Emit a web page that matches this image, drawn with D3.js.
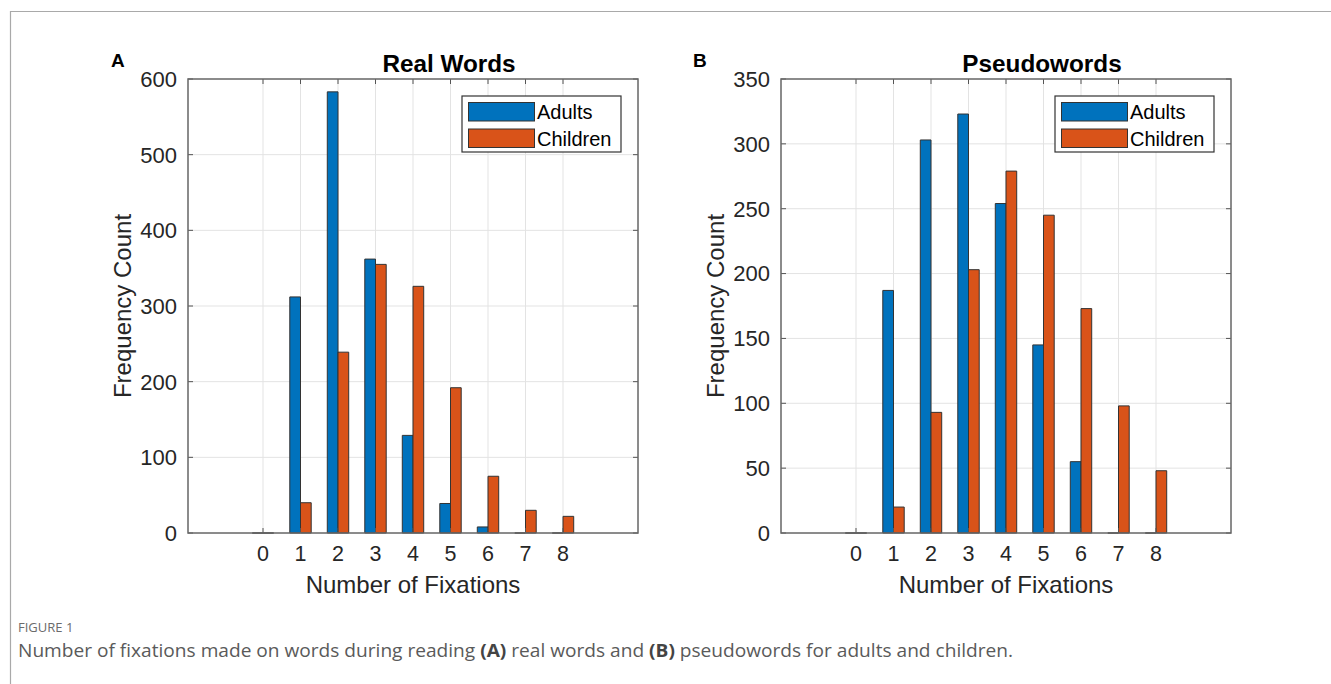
<!DOCTYPE html>
<html>
<head>
<meta charset="utf-8">
<script src="https://cdn.jsdelivr.net/npm/d3@7"></script>
<style>
  html, body { margin: 0; padding: 0; background: #fff; }
  svg { display: block; }
</style>
</head>
<body>
<svg id="fig" width="1331" height="684"></svg>
<script>
// Number of fixations per word (0..8)
const fixations = [0, 1, 2, 3, 4, 5, 6, 7, 8];

// Real words: frequency counts
const realAdults   = [0, 312, 583, 362, 129, 39, 8, 0, 0];
const realChildren = [0, 40, 239, 355, 326, 192, 75, 30, 22];

// Pseudowords: frequency counts
const pseudoAdults   = [0, 187, 303, 323, 254, 145, 55, 0, 0];
const pseudoChildren = [0, 20, 93, 203, 279, 245, 173, 98, 48];

// Axis ticks
const realYTicks   = [0, 100, 200, 300, 400, 500, 600];
const pseudoYTicks = [0, 50, 100, 150, 200, 250, 300, 350];

const seriesNames  = ["Adults", "Children"];
const seriesColors = ["#0072BD", "#D95319"];

const panels = [
  { letter: "A", title: "Real Words",  series: [realAdults, realChildren],
    yMax: 600, yTicks: realYTicks, left: 188, titleX: 449, letterX: 111, legendX: 462 },
  { letter: "B", title: "Pseudowords", series: [pseudoAdults, pseudoChildren],
    yMax: 350, yTicks: pseudoYTicks, left: 781, titleX: 1042, letterX: 693, legendX: 1055 }
];

const svg = d3.select("#fig");
const FONT = "'Liberation Sans', Arial, Helvetica, sans-serif";

// outer frame of the figure
svg.append("path")
  .attr("d", "M10.5,690 V11.5 H1340")
  .attr("fill", "none").attr("stroke", "#a9a9a9").attr("stroke-width", 1.2);

const axW = 450, axTop = 79, axBottom = 533;
const barW = 2 / 7;          // grouped-bar width (two series)
const tickLen = 5;

panels.forEach(p => {
  const x = d3.scaleLinear().domain([-2, 10]).range([p.left, p.left + axW]);
  const y = d3.scaleLinear().domain([0, p.yMax]).range([axBottom, axTop]);
  const g = svg.append("g");

  // grid
  g.append("g").selectAll("line").data(fixations).join("line")
    .attr("x1", d => x(d)).attr("x2", d => x(d))
    .attr("y1", axTop).attr("y2", axBottom)
    .attr("stroke", "#e3e3e3").attr("stroke-width", 1);
  g.append("g").selectAll("line").data(p.yTicks.slice(1, -1)).join("line")
    .attr("x1", p.left).attr("x2", p.left + axW)
    .attr("y1", d => y(d)).attr("y2", d => y(d))
    .attr("stroke", "#e3e3e3").attr("stroke-width", 1);

  // bars
  p.series.forEach((vals, si) => {
    const off = (si === 0 ? -0.5 : 0.5) * barW;
    g.append("g").selectAll("path").data(vals).join("path")
      .attr("d", (v, i) => {
        const x0 = x(fixations[i] + off - barW / 2), x1 = x(fixations[i] + off + barW / 2);
        const y0 = y(0), y1 = y(v);
        return `M${x0},${y0} V${y1} H${x1} V${y0} Z`;
      })
      .attr("fill", seriesColors[si])
      .attr("stroke", "#333").attr("stroke-width", 1);
  });

  // tick marks (inside, on all four sides)
  const tk = g.append("g").attr("stroke", "#555").attr("stroke-width", 1);
  p.yTicks.forEach(t => {
    tk.append("line").attr("x1", p.left).attr("x2", p.left + tickLen).attr("y1", y(t)).attr("y2", y(t));
    tk.append("line").attr("x1", p.left + axW).attr("x2", p.left + axW - tickLen).attr("y1", y(t)).attr("y2", y(t));
  });
  fixations.forEach(t => {
    tk.append("line").attr("x1", x(t)).attr("x2", x(t)).attr("y1", axTop).attr("y2", axTop + tickLen);
    tk.append("line").attr("x1", x(t)).attr("x2", x(t)).attr("y1", axBottom).attr("y2", axBottom - tickLen);
  });

  // axes box
  g.append("rect")
    .attr("x", p.left).attr("y", axTop).attr("width", axW).attr("height", axBottom - axTop)
    .attr("fill", "none").attr("stroke", "#666").attr("stroke-width", 1.5);

  // tick labels
  g.append("g").selectAll("text").data(p.yTicks).join("text")
    .attr("x", p.left - 11).attr("y", d => y(d)).attr("dy", "0.36em")
    .attr("text-anchor", "end")
    .attr("font-family", FONT).attr("font-size", 22).attr("fill", "#262626")
    .text(d => d);
  g.append("g").selectAll("text").data(fixations).join("text")
    .attr("x", d => x(d)).attr("y", 561)
    .attr("text-anchor", "middle")
    .attr("font-family", FONT).attr("font-size", 21.5).attr("fill", "#262626")
    .text(d => d);

  // axis titles
  g.append("text")
    .attr("x", p.left + axW / 2).attr("y", 593)
    .attr("text-anchor", "middle")
    .attr("font-family", FONT).attr("font-size", 24).attr("fill", "#262626")
    .text("Number of Fixations");
  g.append("text")
    .attr("transform", `translate(${p.left - 57},306) rotate(-90)`)
    .attr("text-anchor", "middle")
    .attr("font-family", FONT).attr("font-size", 24).attr("fill", "#262626")
    .text("Frequency Count");

  // panel title and letter
  g.append("text")
    .attr("x", p.titleX).attr("y", 72)
    .attr("text-anchor", "middle")
    .attr("font-family", FONT).attr("font-size", 24.3).attr("font-weight", "bold").attr("fill", "#000")
    .text(p.title);
  g.append("text")
    .attr("x", p.letterX).attr("y", 67)
    .attr("font-family", FONT).attr("font-size", 19).attr("font-weight", "bold").attr("fill", "#000")
    .text(p.letter);

  // legend
  const lg = g.append("g").attr("transform", `translate(${p.legendX},96)`);
  lg.append("rect").attr("width", 159).attr("height", 56)
    .attr("fill", "#fff").attr("stroke", "#333").attr("stroke-width", 1.2);
  seriesNames.forEach((name, i) => {
    lg.append("rect")
      .attr("x", 6.5).attr("y", 6.5 + i * 26.5).attr("width", 66).attr("height", 18.5)
      .attr("fill", seriesColors[i]).attr("stroke", "#333").attr("stroke-width", 1);
    lg.append("text")
      .attr("x", 75).attr("y", 16 + i * 26.5).attr("dy", "0.36em")
      .attr("font-family", FONT).attr("font-size", 20).attr("fill", "#000")
      .text(name);
  });
});

// figure caption
const CAP = "'Open Sans', 'Noto Sans', sans-serif";
svg.append("text")
  .attr("x", 18).attr("y", 632)
  .attr("font-family", CAP).attr("font-size", 13).attr("fill", "#6b6b6b")
  .text("FIGURE 1");

const captionParts = [
  { t: "Number of fixations made on words during reading ", b: false },
  { t: "(A)", b: true },
  { t: " real words and ", b: false },
  { t: "(B)", b: true },
  { t: " pseudowords for adults and children.", b: false }
];
const cap = svg.append("text")
  .attr("x", 18).attr("y", 657)
  .attr("font-family", CAP).attr("font-size", 18).attr("fill", "#5a5a5a")
  .attr("textLength", 995).attr("lengthAdjust", "spacingAndGlyphs");
cap.selectAll("tspan").data(captionParts).join("tspan")
  .attr("font-weight", d => d.b ? "bold" : null)
  .attr("fill", d => d.b ? "#444" : null)
  .text(d => d.t);
</script>
</body>
</html>
